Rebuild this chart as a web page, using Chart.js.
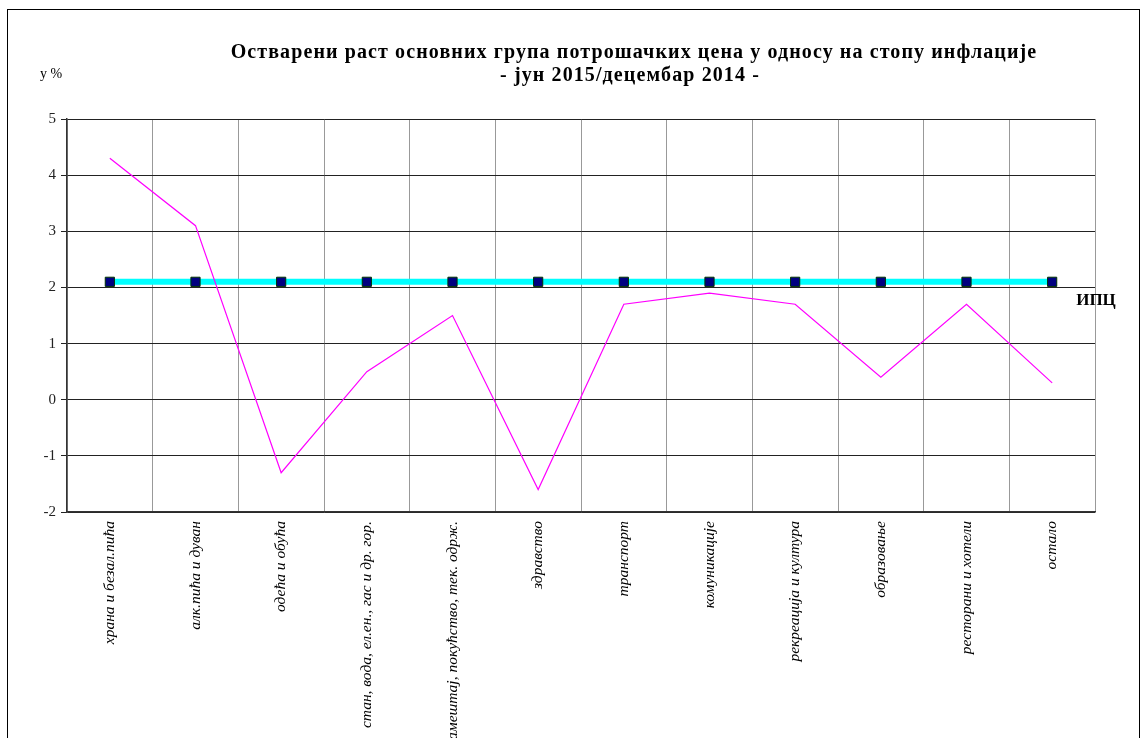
<!DOCTYPE html>
<html>
<head>
<meta charset="utf-8">
<script src="https://cdn.jsdelivr.net/npm/chart.js@4/dist/chart.umd.min.js"></script>
<style>
    body { margin: 0; background: #fff; overflow: hidden; }
    #wrap { position: relative; width: 1143px; height: 738px; }
    #frame { position: absolute; left: 7px; top: 9px; width: 1133px; height: 740px; border: 1px solid #000; box-sizing: border-box; pointer-events: none; }
</style>
</head>
<body>
<div id="wrap">
    <canvas id="chart-cene" width="1143" height="738"></canvas>
    <div id="frame"></div>
</div>
<script>
var kategorije = [
    'храна и безал.пића',
    'алк.пића и дуван',
    'одећа и обућа',
    'стан, вода, ел.ен., гас и др. гор.',
    'намештај, покућство, тек. одрж.',
    'здравство',
    'транспорт',
    'комуникације',
    'рекреација и култура',
    'образовање',
    'ресторани и хотели',
    'остало'
];
var rastCena = [4.3, 3.1, -1.3, 0.5, 1.5, -1.6, 1.7, 1.9, 1.7, 0.4, 1.7, 0.3];
var ipc = [2.1, 2.1, 2.1, 2.1, 2.1, 2.1, 2.1, 2.1, 2.1, 2.1, 2.1, 2.1];
var naslov = ['Остварени раст основних група потрошачких цена у односу на стопу инфлације', '- јун 2015/децембар 2014 -'];

// naslov, "у %" i oznaka ИПЦ
var tekstovi = {
    id: 'tekstovi',
    afterDraw: function (chart) {
        var ctx = chart.ctx;
        ctx.save();
        ctx.fillStyle = '#000';
        ctx.textAlign = 'center';
        ctx.textBaseline = 'middle';
        ctx.font = 'bold 20px "Liberation Serif"';
        ctx.letterSpacing = '1.1px';
        ctx.fillText(naslov[0], 634, 53);
        ctx.fillText(naslov[1], 630, 76);
        ctx.letterSpacing = '0px';
        ctx.font = '14px "Liberation Serif"';
        ctx.fillText('у %', 51, 74);
        ctx.font = 'bold 17px "Liberation Serif"';
        ctx.fillText('ИПЦ', 1096, 301);
        ctx.restore();
    }
};

var config = {
    type: 'line',
    data: {
        labels: kategorije,
        datasets: [{
            label: 'ИПЦ',
            data: ipc,
            borderColor: '#00ffff',
            borderWidth: 6,
            pointStyle: 'rect',
            pointRadius: 6.5,
            pointBackgroundColor: '#000080',
            pointBorderColor: '#003300',
            pointBorderWidth: 1,
            order: 2
        }, {
            label: 'раст',
            data: rastCena,
            borderColor: '#ff00ff',
            borderWidth: 1.2,
            pointRadius: 0,
            tension: 0,
            order: 1
        }]
    },
    options: {
        responsive: false,
        animation: false,
        layout: { padding: { left: 0, right: 48, top: 119, bottom: 0 } },
        plugins: {
            legend: { display: false },
            title: { display: false },
            tooltip: { enabled: false }
        },
        scales: {
            x: {
                offset: true,
                grid: { color: '#999', offset: true, drawTicks: false, lineWidth: 1 },
                border: { color: '#333', width: 1.5 },
                ticks: {
                    color: '#000',
                    maxRotation: 90,
                    minRotation: 90,
                    padding: 9,
                    autoSkip: false,
                    font: { family: 'Liberation Serif', size: 15.5, style: 'italic' }
                },
                afterFit: function (scale) { scale.height = 226; }
            },
            y: {
                min: -2,
                max: 5,
                ticks: {
                    stepSize: 1,
                    color: '#222',
                    padding: 5,
                    font: { family: 'Liberation Serif', size: 15 }
                },
                grid: { color: '#222', lineWidth: 1, tickLength: 6 },
                border: { color: '#333', width: 1.5 },
                afterFit: function (scale) { scale.width = 67; }
            }
        }
    },
    plugins: [tekstovi]
};

window.onload = function () {
    var ctx = document.getElementById('chart-cene').getContext('2d');
    window.myLine = new Chart(ctx, config);
};
</script>
</body>
</html>
